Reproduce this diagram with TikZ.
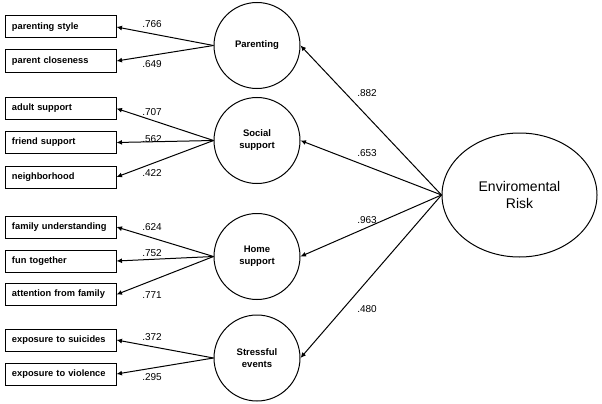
\documentclass[tikz,border=0pt]{standalone}
\usepackage{fontspec}
\setmainfont{Liberation Sans}
\usetikzlibrary{arrows.meta,shapes.geometric}
\begin{document}
\begin{tikzpicture}[x=1pt,y=-1pt,
  ind/.style={draw,line width=1pt,minimum width=111pt,minimum height=22pt,inner sep=0pt,
     font=\fontsize{9.3}{10}\selectfont\bfseries,text width=97pt,align=left},
  lat/.style={draw,circle,line width=1pt,minimum size=86pt,inner sep=0pt,
     font=\fontsize{9.5}{12}\selectfont\bfseries,align=center},
  arr/.style={line width=1pt,-{Latex[length=5.5pt,width=5pt]}},
  val/.style={font=\fontsize{10}{12}\selectfont,inner sep=0pt}]
\useasboundingbox (0,0) rectangle (602,404);
% indicators
\node[ind] (ps) at (60.5,27) {parenting style};
\node[ind] (pc) at (60.5,61) {parent closeness};
\node[ind] (as) at (60.5,108.5) {adult support};
\node[ind] (fs) at (60.5,142.5) {friend support};
\node[ind] (nb) at (60.5,177) {neighborhood};
\node[ind] (fu) at (60.5,227) {family understanding};
\node[ind] (ft) at (60.5,261) {fun together};
\node[ind] (af) at (60.5,294.5) {attention from family};
\node[ind] (es) at (60.5,340) {exposure to suicides};
\node[ind] (ev) at (60.5,374) {exposure to violence};
% latent factors
\node[lat] (par) at (257,45.5) {Parenting};
\node[lat] (soc) at (257,140.5) {Social\\support};
\node[lat] (hom) at (257,256.5) {Home\\support};
\node[lat] (str) at (257,358) {Stressful\\events};
\node[draw,ellipse,line width=1pt,minimum width=155pt,minimum height=124pt,inner sep=0pt,
  font=\fontsize{14}{17}\selectfont,align=center] (er) at (519.5,195) {Enviromental\\Risk};
% loadings
\draw[arr] (par.west) -- (ps.east);
\draw[arr] (par.west) -- (pc.east);
\draw[arr] (soc.west) -- (as.east);
\draw[arr] (soc.west) -- (fs.east);
\draw[arr] (soc.west) -- (nb.east);
\draw[arr] (hom.west) -- (fu.east);
\draw[arr] (hom.west) -- (ft.east);
\draw[arr] (hom.west) -- (af.east);
\draw[arr] (str.west) -- (es.east);
\draw[arr] (str.west) -- (ev.east);
\draw[arr] (er.west) -- (par.east);
\draw[arr] (er.west) -- (soc.east);
\draw[arr] (er.west) -- (hom.east);
\draw[arr] (er.west) -- (str.east);
% values
\node[val] (v1) at (152,24) {.766};
\node[val] (v2) at (152,64) {.649};
\node[val] (v3) at (152,112) {.707};
\node[val] (v4) at (152,139) {.562};
\node[val] (v5) at (152,173) {.422};
\node[val] (v6) at (152,227) {.624};
\node[val] (v7) at (152,253) {.752};
\node[val] (v8) at (152,295) {.771};
\node[val] (v9) at (152,337) {.372};
\node[val] (v10) at (152,377) {.295};
\node[val] (w1) at (367,93) {.882};
\node[val] (w2) at (367,153) {.653};
\node[val] (w3) at (367,220) {.963};
\node[val] (w4) at (367,309) {.480};
\end{tikzpicture}
\end{document}
